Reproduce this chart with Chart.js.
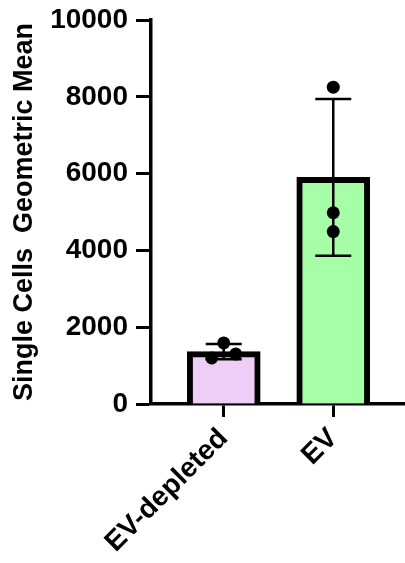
<!DOCTYPE html>
<html>
<head>
<meta charset="utf-8">
<title>Single Cells Geometric Mean</title>
<script src="https://cdn.jsdelivr.net/npm/chart.js@4/dist/chart.umd.min.js"></script>
<style>
  html, body { margin: 0; padding: 0; background: #fff; }
  #wrap { width: 405px; height: 563px; position: relative; }
</style>
</head>
<body>
<div id="wrap"><canvas id="chart"></canvas></div>
<script>
// Groups and measurements
const categories = ['EV-depleted', 'EV'];
const barMeans = [1365, 5900];
const barSD = [200, 2040];
const replicates = [
  [1590, 1200, 1300],
  [8250, 4980, 4490]
];
const yTicks = [0, 2000, 4000, 6000, 8000, 10000];
const yTitle = 'Single Cells  Geometric Mean';

const fillColors = ['rgb(238,205,246)', 'rgb(166,255,166)'];
const FONT = "'Liberation Sans', Arial, Helvetica, sans-serif";

// Error bars (mean ± SD) and individual replicate dots, placed with the chart's scales.
const overlayPlugin = {
  id: 'overlay',
  afterDatasetsDraw(chart) {
    const { ctx, scales: { x, y } } = chart;
    const radius = 6.5;
    const step = 12;
    ctx.save();
    categories.forEach((_, i) => {
      const cx = x.getPixelForValue(i + 1);
      // error bar
      const yHi = y.getPixelForValue(barMeans[i] + barSD[i]);
      const yLo = y.getPixelForValue(barMeans[i] - barSD[i]);
      ctx.strokeStyle = '#000';
      ctx.lineWidth = 2.5;
      ctx.beginPath();
      ctx.moveTo(cx, yHi); ctx.lineTo(cx, yLo);
      ctx.moveTo(cx - 18, yHi); ctx.lineTo(cx + 18, yHi);
      ctx.moveTo(cx - 18, yLo); ctx.lineTo(cx + 18, yLo);
      ctx.stroke();
      // dots, spread sideways when they would overlap
      const pts = replicates[i].map(v => ({ py: y.getPixelForValue(v), v }))
        .sort((a, b) => b.v - a.v);
      const placed = [];
      pts.forEach(p => {
        const tries = [0, step, -step, 2 * step, -2 * step];
        let off = 0;
        for (const t of tries) {
          const clash = placed.some(q => Math.hypot(q.dx - t, q.py - p.py) < radius * 2);
          if (!clash) { off = t; break; }
        }
        placed.push({ dx: off, py: p.py });
      });
      ctx.fillStyle = '#000';
      placed.forEach(p => {
        ctx.beginPath();
        ctx.arc(cx + p.dx, p.py, radius, 0, Math.PI * 2);
        ctx.fill();
      });
    });
    ctx.restore();
  }
};

new Chart(document.getElementById('chart'), {
  type: 'bar',
  data: {
    datasets: [{
      data: barMeans.map((m, i) => ({ x: i + 1, y: m })),
      backgroundColor: fillColors,
      borderColor: '#000',
      borderWidth: 6,
      barThickness: 73
    }]
  },
  options: {
    responsive: true,
    maintainAspectRatio: false,
    animation: false,
    devicePixelRatio: 1,
    layout: { padding: { top: 20, right: 0, bottom: 0, left: 0 } },
    plugins: { legend: { display: false }, tooltip: { enabled: false } },
    scales: {
      x: {
        type: 'linear',
        offset: false,
        min: 0.336,
        max: 2.655,
        afterBuildTicks: s => { s.ticks = categories.map((_, i) => ({ value: i + 1 })); },
        afterFit: s => { s.height = 159; s.paddingLeft = 0; s.paddingRight = 0; },
        ticks: {
          callback: v => categories[v - 1],
          autoSkip: false,
          minRotation: 45,
          maxRotation: 45,
          padding: 5,
          color: '#000',
          font: { family: FONT, size: 28, weight: 'bold' }
        },
        grid: { display: true, offset: false, drawOnChartArea: false, drawTicks: true, tickLength: 13, tickWidth: 3, tickColor: '#000' },
        border: { display: true, width: 3.5, color: '#000' }
      },
      y: {
        min: 0,
        max: 10000,
        afterBuildTicks: s => { s.ticks = yTicks.map(v => ({ value: v })); },
        afterFit: s => { s.width = 151; s.paddingTop = 0; s.paddingBottom = 0; },
        ticks: {
          padding: 8,
          color: '#000',
          callback: v => String(v),
          font: { family: FONT, size: 28, weight: 'bold' }
        },
        grid: { display: true, drawOnChartArea: false, drawTicks: true, tickLength: 15, tickWidth: 3, tickColor: '#000' },
        border: { display: true, width: 3.5, color: '#000' },
        title: {
          display: true,
          text: yTitle,
          color: '#000',
          padding: { top: 8, bottom: 0 },
          font: { family: FONT, size: 27, weight: 'bold' }
        }
      }
    }
  },
  plugins: [overlayPlugin]
});
</script>
</body>
</html>
